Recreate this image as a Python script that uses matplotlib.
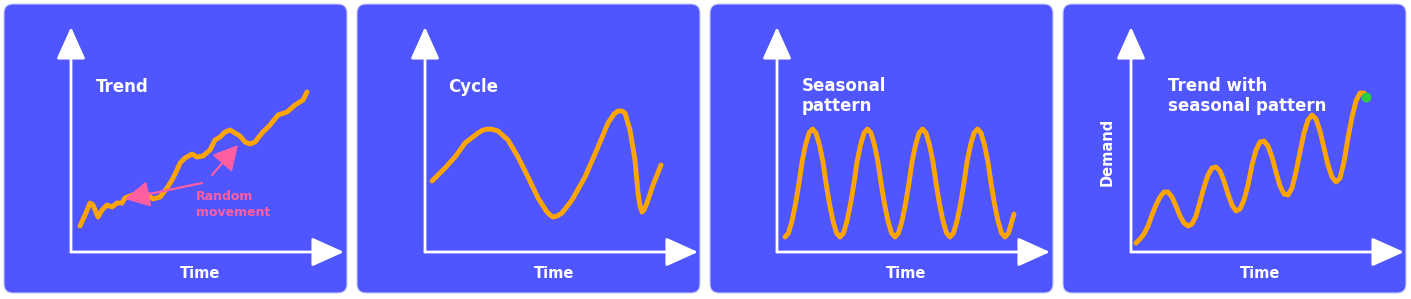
import matplotlib
matplotlib.use("Agg")
import matplotlib.pyplot as plt
from matplotlib.patches import FancyBboxPatch

BLUE = "#4F55FF"
ORANGE = "#FFA500"
PINK = "#FF5FA2"
GREEN = "#2ECC40"

# values (time, level)
trend_t = [9, 14, 19, 22, 27, 31, 36, 41, 46, 51, 54, 59, 67, 74, 77, 82, 89, 96, 101, 106,
           109, 114, 121, 126, 132, 139, 144, 149, 154, 159, 164, 169, 174, 179, 184, 191,
           199, 207, 216, 224, 232, 236]
trend_v = [26, 37, 49, 47, 35, 42, 47, 45, 49, 49, 54, 56, 59, 61, 57, 53, 55, 64, 72, 82,
           89, 94, 98, 95, 96, 102, 112, 115, 120, 122, 119, 116, 110, 108, 110, 119,
           127, 137, 140, 147, 152, 160]

cycle_t = [7, 20, 30, 40, 53, 58, 63, 68, 73, 83, 93, 103, 113, 122, 125, 128, 132, 137, 147,
           160, 173, 183, 189, 193, 197, 200, 205, 210, 213, 215, 217, 219, 222, 228, 236]
cycle_v = [71, 84, 95, 109, 119, 122, 123, 122.5, 121, 112, 95, 75, 54, 40, 37, 35, 36, 39, 52,
           75, 105, 129, 138, 141, 141, 139, 122, 92, 59, 46, 40, 42, 49, 67, 87]

season_t = [8, 11.5, 15, 18.5, 22, 25, 28.5, 32, 35.5, 39, 42.5, 46, 49, 52.5, 56, 59.5,
            63, 66.5, 70, 73.5, 77, 80, 83.5, 87, 90.5, 94, 97.5, 101, 104, 107.5, 111, 114.5,
            118, 121.5, 125, 128.5, 132, 135, 138.5, 142, 145.5, 149, 152.5, 156, 159, 162.5, 166, 169.5,
            173, 176.5, 180, 183.5, 187, 190, 193.5, 197, 200.5, 204, 207.5, 211, 214, 217.5, 221, 224.5,
            228, 231.5, 235, 237]
season_v = [15, 19, 31, 48, 69, 90, 107, 119, 123, 119, 107, 90, 69, 48, 31, 19,
            15, 19, 31, 48, 69, 90, 107, 119, 123, 119, 107, 90, 69, 48, 31, 19,
            15, 19, 31, 48, 69, 90, 107, 119, 123, 119, 107, 90, 69, 48, 31, 19,
            15, 19, 31, 48, 69, 90, 107, 119, 123, 119, 107, 90, 69, 48, 31, 19,
            15, 19, 31, 38]

demand_t = [5, 9, 13, 17, 21, 25, 29, 33, 37, 41, 45, 49, 53, 57, 61, 65, 69, 73, 77, 81,
            85, 89, 93, 97, 101, 105, 109, 113, 117, 121, 125, 129, 133, 137, 141, 145, 149,
            153, 157, 161, 165, 169, 173, 177, 181, 185, 189, 193, 197, 201, 205, 209, 213,
            217, 221, 225, 229, 233, 236]
demand_v = [9, 13, 18, 26, 37, 47, 55, 60, 60, 55, 46, 36, 29, 26, 28, 36, 50, 65, 77, 84,
            85, 81, 71, 58, 47, 41, 43, 52, 67, 87, 102, 110, 111, 106, 95, 80, 66,
            58, 57, 64, 80, 100, 119, 132, 137, 133, 121, 104, 87, 75, 70, 74, 90,
            114, 135, 151, 159, 159, 155]
latest_t, latest_v = 235, 155

fig = plt.figure(figsize=(14.11, 2.99), dpi=100, facecolor="white")

panel_left = [0.04, 3.57, 7.10, 10.63]   # inches
axis_left = [71, 425, 777, 1131]         # px
W, H = 1411, 299

for x0 in panel_left:
    fig.add_artist(FancyBboxPatch((x0, 0.06), 3.43, 2.89,
                                  boxstyle="round,pad=0,rounding_size=0.09",
                                  transform=fig.dpi_scale_trans,
                                  fc=BLUE, ec="#C9CBF7", lw=0.8, zorder=0))

axes = []
for xl in axis_left:
    ax = fig.add_axes([xl / W, (H - 252) / H, 273 / W, 225 / H])
    ax.set_xlim(0, 273)
    ax.set_ylim(0, 225)
    ax.axis("off")
    ax.patch.set_alpha(0)
    arrow = dict(arrowstyle="-|>,head_length=1.0,head_width=0.45", mutation_scale=20,
                 color="white", lw=2.0, shrinkA=0, shrinkB=0)
    ax.annotate("", xy=(1, 0), xytext=(0, 0), xycoords="axes fraction", arrowprops=arrow)
    ax.annotate("", xy=(0, 1), xytext=(0, 0), xycoords="axes fraction", arrowprops=arrow)
    ax.text(129, -22, "Time", color="white", fontsize=10.5, fontweight="bold",
            ha="center", va="center")
    axes.append(ax)

ax1, ax2, ax3, ax4 = axes
line_kw = dict(color=ORANGE, lw=3.5, solid_capstyle="round", solid_joinstyle="round", clip_on=False)
ax1.plot(trend_t, trend_v, **line_kw)
ax2.plot(cycle_t, cycle_v, **line_kw)
ax3.plot(season_t, season_v, **line_kw)
ax4.plot(demand_t, demand_v, **line_kw)
ax4.scatter([latest_t], [latest_v], s=38, color=GREEN, zorder=5, clip_on=False)

title_kw = dict(color="white", fontsize=12, fontweight="bold", ha="left", va="center", linespacing=1.15)
ax1.text(25, 165, "Trend", **title_kw)
ax2.text(23, 165, "Cycle", **title_kw)
ax3.text(25, 156, "Seasonal\npattern", **title_kw)
ax4.text(37, 156, "Trend with\nseasonal pattern", **title_kw)
ax4.text(-24, 100, "Demand", color="white", fontsize=10.5, fontweight="bold",
         rotation=90, ha="center", va="center")

pink = dict(arrowstyle="-|>,head_length=0.75,head_width=0.4", mutation_scale=20,
            color=PINK, lw=1.6, shrinkA=0, shrinkB=0)
ax1.annotate("", xy=(54, 53), xytext=(131, 69), arrowprops=pink)
ax1.annotate("", xy=(167, 107), xytext=(141, 77), arrowprops=pink)
ax1.text(125, 47, "Random\nmovement", color=PINK, fontsize=9, fontweight="bold",
         ha="left", va="center", linespacing=1.3)

fig.savefig("out.png", dpi=100, facecolor="white")
